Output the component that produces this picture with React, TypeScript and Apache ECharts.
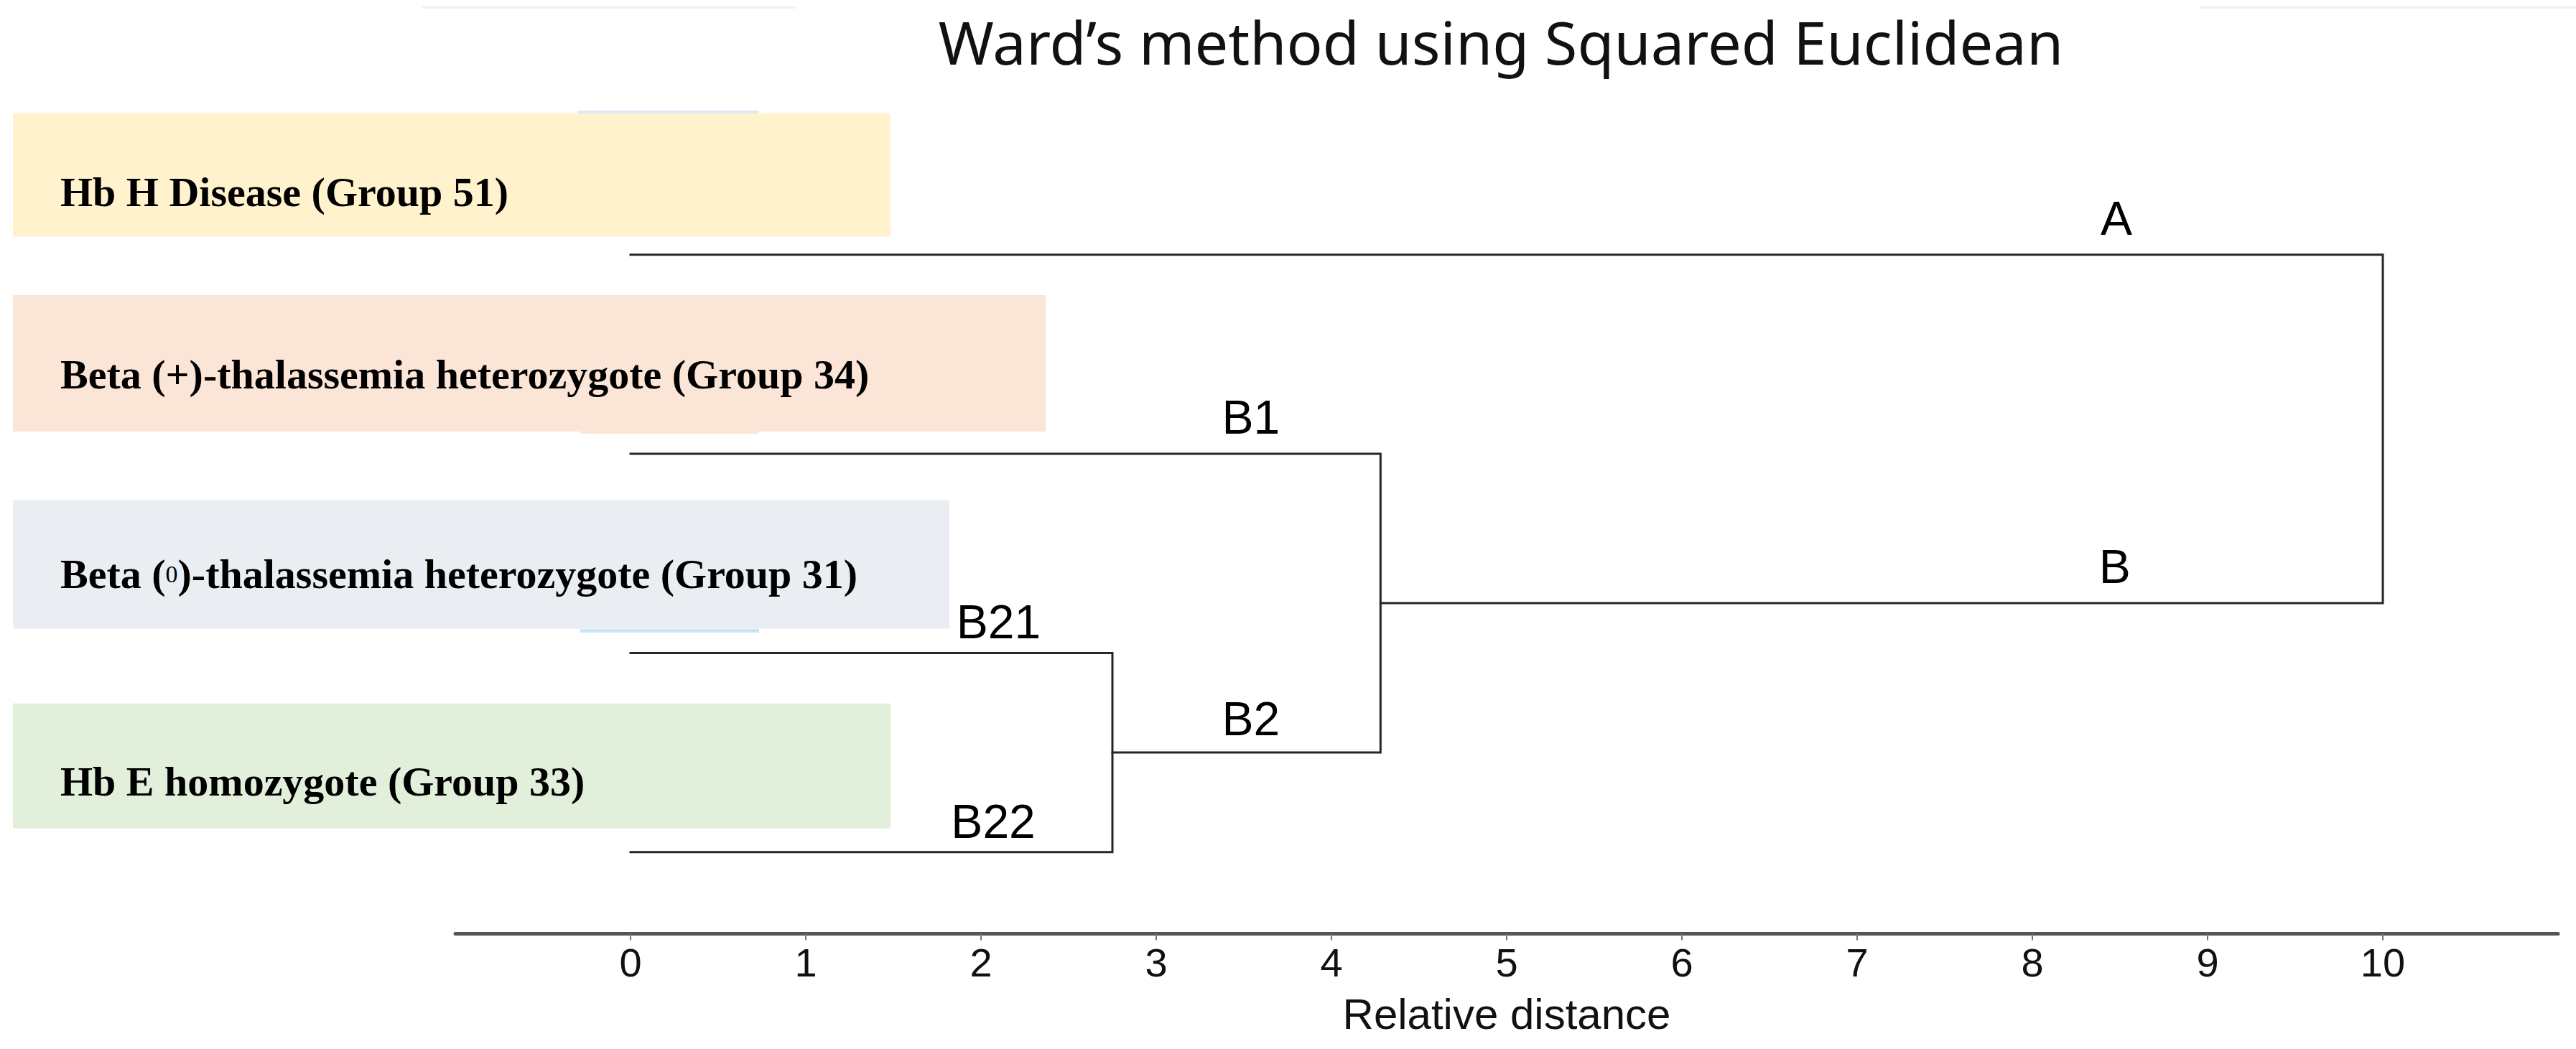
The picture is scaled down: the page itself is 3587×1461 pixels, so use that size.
import React, { useEffect, useRef } from "react";
import * as echarts from "echarts";

// ---------- data ----------
const leafNames = [
  "Hb H Disease (Group 51)",
  "Beta (+)-thalassemia heterozygote (Group 34)",
  "Beta (0)-thalassemia heterozygote (Group 31)",
  "Hb E homozygote (Group 33)",
];
const leafPositions = [1, 2, 3, 4];

// merges: left child [height, y], right child [height, y], merge height
const linkNames = ["B21-B22", "B1-B2", "A-B"];
const linkLeftChild = [
  [0, 3],
  [0, 2],
  [0, 1],
];
const linkRightChild = [
  [0, 4],
  [2.75, 3.5],
  [4.28, 2.75],
];
const linkHeights = [2.75, 4.28, 10];

const nodeLabels = ["A", "B", "B1", "B2", "B21", "B22"];
const nodeLabelX = [8.48, 8.47, 3.54, 3.54, 2.1, 2.07];
const nodeLabelY = [1, 2.75, 2, 3.5, 3, 4];

const tickValues = [0, 1, 2, 3, 4, 5, 6, 7, 8, 9, 10];

// ---------- styles (not data) ----------
const panelColors = ["#FFF2CC", "#FBE5D6", "#EAEEF3", "#E2EFDA"];
const panelTopOffset = [-197, -221, -213, -207];
const panelHeights = [172, 190, 179, 174];
const panelWidths = [1222, 1438, 1304, 1222];
const textOffset = [-87, -111, -110, -98];
const nodeLabelDistance = [18, 18, 18, 14, 10, 10];

function leafRich(name: string) {
  const m = name.match(/^(.*\()0(\).*)$/);
  if (m) return `{b|${m[1]}}{s|0}{b|${m[2]}}`;
  return `{b|${name}}`;
}

export default function App() {
  const ref = useRef<HTMLDivElement>(null);
  useEffect(() => {
    if (!ref.current) return;
    const chart = echarts.init(ref.current, null, { renderer: "svg" });

    const linkSeries = linkNames.map((n, i) => ({
      name: n,
      type: "line",
      data: [
        [linkLeftChild[i][0], linkLeftChild[i][1]],
        [linkHeights[i], linkLeftChild[i][1]],
        [linkHeights[i], linkRightChild[i][1]],
        [linkRightChild[i][0], linkRightChild[i][1]],
      ],
      symbol: "none",
      lineStyle: { color: "#262626", width: 3, join: "miter", cap: "square" },
      silent: true,
      z: 3,
    }));

    const option: any = {
      animation: false,
      backgroundColor: "#ffffff",
      title: {
        text: "Ward\u2019s method using Squared Euclidean",
        left: 2085,
        top: 11,
        textAlign: "center",
        textStyle: {
          fontFamily: "Noto Sans",
          fontSize: 83,
          fontWeight: "normal",
          color: "#111111",
        },
      },
      grid: { left: 634, right: 25, top: 216, bottom: 160.5, containLabel: false },
      xAxis: {
        type: "value",
        min: -1,
        max: 11,
        interval: 1,
        name: "Relative distance",
        nameLocation: "middle",
        nameGap: 82,
        nameTextStyle: { fontFamily: "Liberation Sans", fontSize: 60, color: "#111111" },
        axisLine: { show: true, lineStyle: { color: "#555555", width: 5 } },
        axisTick: {
          show: true,
          length: 9,
          lineStyle: { color: "#777777", width: 2 },
          customValues: tickValues,
        },
        axisLabel: {
          fontFamily: "Liberation Sans",
          fontSize: 56,
          color: "#111111",
          margin: 12,
          customValues: tickValues,
          formatter: (v: number) => (tickValues.indexOf(v) >= 0 ? String(v) : ""),
        },
        splitLine: { show: false },
      },
      yAxis: {
        type: "value",
        inverse: true,
        min: 0.5,
        max: 4.41,
        show: false,
      },
      graphic: [
        { type: "rect", shape: { x: 588, y: 9, width: 520, height: 3 }, style: { fill: "#f1f1f1" } },
        { type: "rect", shape: { x: 3062, y: 9, width: 525, height: 3 }, style: { fill: "#f1f1f1" } },
        { type: "rect", shape: { x: 804, y: 154, width: 253, height: 4 }, style: { fill: "#DCE9F7" } },
        { type: "rect", shape: { x: 808, y: 600, width: 249, height: 4 }, style: { fill: "#FBE5D6" } },
        { type: "rect", shape: { x: 808, y: 876, width: 249, height: 5 }, style: { fill: "#C9E4F4" } },
      ],
      series: [
        {
          name: "leaves",
          type: "custom",
          clip: false,
          silent: true,
          z: 1,
          data: leafPositions.map((y) => [0, y]),
          encode: { x: 0, y: 1 },
          renderItem: (params: any, api: any) => {
            const i = params.dataIndex;
            const y = api.coord([0, api.value(1)])[1];
            return {
              type: "group",
              children: [
                {
                  type: "rect",
                  shape: { x: 18, y: y + panelTopOffset[i], width: panelWidths[i], height: panelHeights[i] },
                  style: { fill: panelColors[i] },
                },
                {
                  type: "text",
                  x: 84,
                  y: y + textOffset[i],
                  style: {
                    text: leafRich(leafNames[i]),
                    verticalAlign: "middle",
                    align: "left",
                    fill: "#000000",
                    rich: {
                      b: {
                        fontFamily: "Liberation Serif",
                        fontWeight: "bold",
                        fontSize: 58,
                        fill: "#000000",
                      },
                      s: {
                        fontFamily: "Liberation Serif",
                        fontWeight: "normal",
                        fontSize: 34,
                        fill: "#000000",
                      },
                    },
                  },
                },
              ],
            };
          },
        },
        ...linkSeries,
        {
          name: "nodeLabels",
          type: "custom",
          clip: false,
          silent: true,
          z: 4,
          data: nodeLabels.map((n, i) => [nodeLabelX[i], nodeLabelY[i]]),
          encode: { x: 0, y: 1 },
          renderItem: (params: any, api: any) => {
            const i = params.dataIndex;
            const p = api.coord([api.value(0), api.value(1)]);
            return {
              type: "text",
              x: p[0],
              y: p[1] - nodeLabelDistance[i],
              style: {
                text: nodeLabels[i],
                align: "center",
                verticalAlign: "bottom",
                fontFamily: "Liberation Sans",
                fontSize: 66,
                fill: "#000000",
              },
            };
          },
        },
      ],
    };
    chart.setOption(option);
    return () => chart.dispose();
  }, []);

  return (
    <div
      ref={ref}
      style={{ position: "fixed", left: 0, top: 0, width: 3587, height: 1461, background: "#ffffff" }}
    />
  );
}
